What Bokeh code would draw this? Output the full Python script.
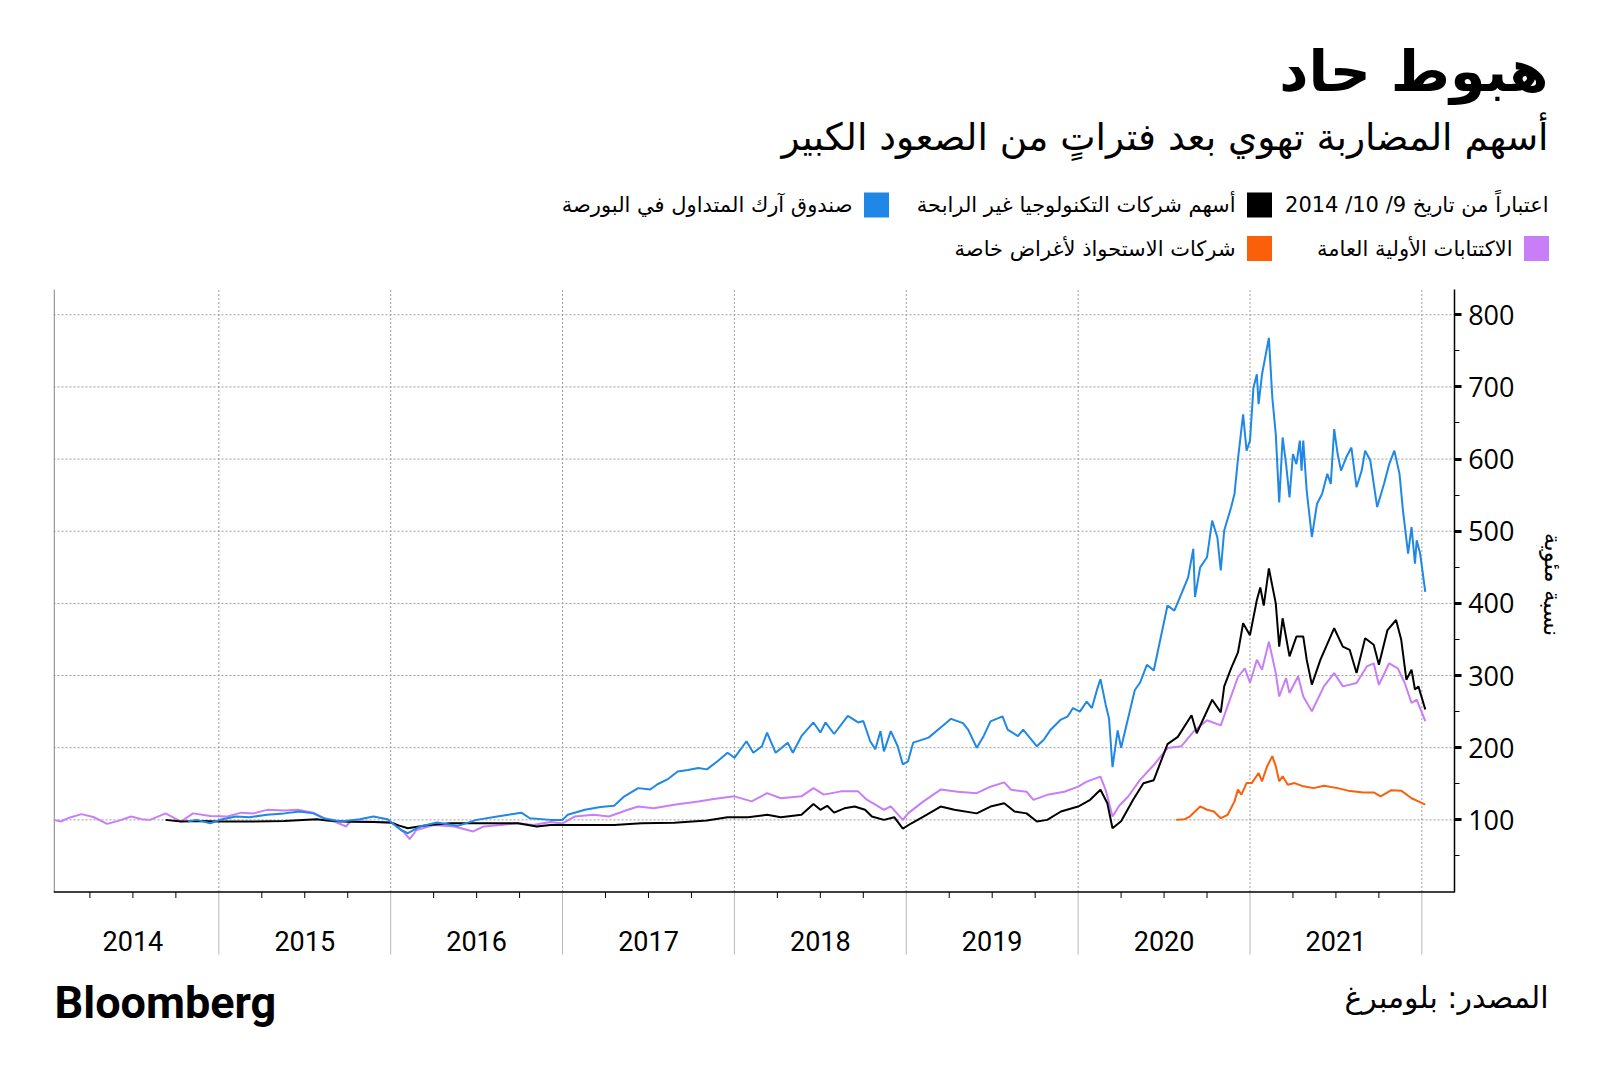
from bokeh.plotting import figure
from bokeh.models import FixedTicker, Range1d
from bokeh.core.properties import value
from bokeh.embed import file_html
from bokeh.resources import INLINE

# ---------------- data (decimal years, index value, 100 = start) ----------------
YEARS = [2014, 2015, 2016, 2017, 2018, 2019, 2020, 2021]
Y_TICKS = [100, 200, 300, 400, 500, 600, 700, 800]
Y_MINOR = [50, 150, 250, 350, 450, 550, 650, 750]

IPO_T = [2014.04, 2014.08, 2014.13, 2014.2, 2014.27, 2014.35, 2014.42, 2014.49, 2014.55, 2014.6,
         2014.69, 2014.78, 2014.85, 2014.95, 2015.05, 2015.13, 2015.2, 2015.28, 2015.38, 2015.46,
         2015.55, 2015.63, 2015.68, 2015.74, 2015.77, 2015.86, 2015.96, 2016.02, 2016.08, 2016.11,
         2016.15, 2016.25, 2016.37, 2016.48, 2016.54, 2016.64, 2016.74, 2016.83, 2016.93, 2017.0,
         2017.07, 2017.18, 2017.27, 2017.38, 2017.44, 2017.53, 2017.65, 2017.79, 2017.88, 2018.0,
         2018.1, 2018.19, 2018.27, 2018.39, 2018.46, 2018.52, 2018.62, 2018.72, 2018.77, 2018.82,
         2018.87, 2018.91, 2018.98, 2019.01, 2019.1, 2019.2, 2019.3, 2019.41, 2019.49, 2019.57,
         2019.61, 2019.7, 2019.74, 2019.82, 2019.92, 2020.0, 2020.05, 2020.13, 2020.16, 2020.2,
         2020.24, 2020.29, 2020.36, 2020.44, 2020.52, 2020.6, 2020.67, 2020.75, 2020.83, 2020.87,
         2020.93, 2020.97, 2021.0, 2021.04, 2021.07, 2021.11, 2021.15, 2021.17, 2021.21, 2021.23,
         2021.28, 2021.31, 2021.36, 2021.43, 2021.49, 2021.54, 2021.62, 2021.68, 2021.72, 2021.75,
         2021.81, 2021.86, 2021.9, 2021.94, 2021.97, 2022.02]
IPO_V = [100, 97.7, 103, 108, 104, 94.5, 99, 104.6, 101, 100,
         109, 97.7, 109, 105.5, 104.6, 110, 109, 113.9, 113, 113.9,
         110, 100, 97, 90.8, 99, 97.7, 96.3, 95.4, 82, 73.2,
         86, 93, 90.8, 84, 90.8, 93, 95.4, 93, 97, 95,
         104.6, 107, 104.6, 114, 118.6, 116, 121, 125.6, 128.8, 132.6,
         125.6, 137, 130, 132.6, 144, 135, 139.5, 139.5, 128, 121,
         114, 118.6, 100, 109, 125.6, 142, 139, 137, 146, 152,
         141.7, 139, 127.8, 134.7, 139, 146, 153, 160, 141.7, 104.6,
         120, 132, 155.5, 176, 199.5, 202, 222, 238, 231, 258,
         298, 310, 290, 322, 308, 347, 303.5, 271, 296.6, 275.8,
         299, 271, 250.6, 285, 303.5, 285, 289.7, 312.6, 317, 287,
         317, 310, 290, 262, 266.7, 236.8]

TECH_T = [2014.69, 2014.78, 2014.9, 2015.0, 2015.2, 2015.38, 2015.57, 2015.63, 2015.75, 2015.9,
          2016.0, 2016.05, 2016.1, 2016.22, 2016.35, 2016.55, 2016.74, 2016.85, 2016.93, 2017.0,
          2017.17, 2017.3, 2017.46, 2017.65, 2017.84, 2017.96, 2018.08, 2018.19, 2018.27, 2018.39,
          2018.46, 2018.5, 2018.54, 2018.58, 2018.64, 2018.7, 2018.76, 2018.8, 2018.87, 2018.93,
          2018.98, 2019.03, 2019.1, 2019.2, 2019.28, 2019.41, 2019.49, 2019.57, 2019.63, 2019.7,
          2019.76, 2019.82, 2019.9, 2020.0, 2020.07, 2020.13, 2020.17, 2020.2, 2020.25, 2020.32,
          2020.38, 2020.44, 2020.48, 2020.52, 2020.58, 2020.66, 2020.69, 2020.78, 2020.83, 2020.85,
          2020.89, 2020.93, 2020.96, 2021.0, 2021.04, 2021.06, 2021.08, 2021.11, 2021.15, 2021.17,
          2021.19, 2021.23, 2021.27, 2021.31, 2021.33, 2021.36, 2021.41, 2021.49, 2021.54, 2021.58,
          2021.62, 2021.67, 2021.72, 2021.75, 2021.8, 2021.85, 2021.88, 2021.91, 2021.94, 2021.96,
          2021.98, 2022.02]
TECH_V = [100, 97.7, 98.5, 97.7, 97.7, 98.6, 101, 99, 97.5, 97,
          96.3, 92, 88.5, 93, 95.4, 95.4, 95.4, 90.8, 93, 93,
          93, 93, 95.3, 96, 99, 103.7, 103.7, 107, 103.7, 107,
          122, 114, 119.5, 110, 116, 118.6, 114, 104.6, 100, 103.7,
          88, 95.3, 104.6, 118.5, 114, 109, 118.5, 123, 111.6, 109,
          97.7, 100, 111.6, 118.5, 127.8, 141.7, 123, 88.4, 98, 128,
          150.7, 155, 180, 205, 215, 245, 220, 266.5, 249, 285,
          310, 332, 372.5, 356, 404.7, 422, 397, 448.4, 400, 340,
          379.4, 326.5, 354, 354, 322, 287.4, 322, 365.6, 340, 335.7,
          303.5, 351.8, 342.6, 315, 363, 377, 349.5, 294.3, 308, 280.5,
          285, 253]

ARK_T = [2014.82, 2014.87, 2014.95, 2015.02, 2015.1, 2015.18, 2015.28, 2015.38, 2015.47, 2015.55,
         2015.61, 2015.71, 2015.82, 2015.9, 2015.98, 2016.06, 2016.1, 2016.17, 2016.27, 2016.39,
         2016.5, 2016.62, 2016.76, 2016.81, 2016.93, 2017.0, 2017.03, 2017.13, 2017.22, 2017.3,
         2017.36, 2017.44, 2017.51, 2017.55, 2017.61, 2017.67, 2017.73, 2017.79, 2017.84, 2017.9,
         2017.96, 2018.0, 2018.07, 2018.11, 2018.16, 2018.19, 2018.24, 2018.31, 2018.34, 2018.39,
         2018.46, 2018.5, 2018.53, 2018.58, 2018.66, 2018.72, 2018.75, 2018.79, 2018.82, 2018.85,
         2018.87, 2018.91, 2018.95, 2018.98, 2019.01, 2019.04, 2019.13, 2019.2, 2019.23, 2019.26,
         2019.33, 2019.36, 2019.41, 2019.45, 2019.49, 2019.56, 2019.59, 2019.65, 2019.68, 2019.76,
         2019.8, 2019.84, 2019.9, 2019.94, 2019.97, 2020.01, 2020.05, 2020.08, 2020.11, 2020.13,
         2020.16, 2020.18, 2020.2, 2020.23, 2020.25, 2020.29, 2020.33, 2020.36, 2020.4, 2020.44,
         2020.48, 2020.52, 2020.56, 2020.6, 2020.64, 2020.67, 2020.68, 2020.71, 2020.75, 2020.78,
         2020.81, 2020.83, 2020.85, 2020.89, 2020.91, 2020.93, 2020.96, 2020.98, 2021.0, 2021.02,
         2021.04, 2021.05, 2021.07, 2021.11, 2021.13, 2021.15, 2021.17, 2021.19, 2021.21, 2021.23,
         2021.25, 2021.27, 2021.29, 2021.3, 2021.31, 2021.33, 2021.36, 2021.39, 2021.42, 2021.45,
         2021.47, 2021.49, 2021.51, 2021.53, 2021.56, 2021.59, 2021.62, 2021.65, 2021.67, 2021.7,
         2021.74, 2021.78, 2021.81, 2021.84, 2021.87, 2021.89, 2021.92, 2021.94, 2021.96, 2021.97,
         2021.99, 2022.02]
ARK_V = [97.7, 100, 95.4, 101, 104.6, 103.7, 107, 109, 111.5, 109,
         102.3, 97.7, 101, 104.6, 101, 86, 81.5, 90.8, 96.3, 91.7,
         100, 104.6, 110, 102.3, 100, 100, 107, 114, 117.7, 119.5,
         132.6, 144, 142, 149, 156, 167, 169, 172, 170, 181,
         193, 186, 209, 193, 202, 221, 193, 207, 193, 216,
         235, 221, 235, 219, 244, 235, 237, 209, 198, 223,
         195, 223, 202, 177, 181, 207, 214, 228, 234, 240,
         234, 225, 200, 216, 236.6, 243.5, 225, 216, 225, 202,
         211, 225, 239, 243.5, 255, 250, 264, 255, 280.5, 295,
         260, 240, 173, 224, 200, 240, 280, 290, 315, 307,
         352, 397, 390, 413, 436, 475.6, 408.8, 450, 464, 514.7,
         491.7, 445.6, 501, 533, 552, 600, 662, 611.7, 625.5, 699,
         717.5, 676, 717.5, 768, 685, 634.7, 540, 630, 593, 547,
         607, 593, 625.5, 584, 625.5, 556, 492, 538, 552, 579.5,
         565.7, 641.6, 607, 584, 602.5, 616, 561, 584, 611.7, 598,
         533.5, 565.7, 593, 611.7, 579.5, 529, 469, 505.9, 455, 487.5,
         469, 416]

SPAC_T = [2020.57, 2020.62, 2020.65, 2020.71, 2020.75, 2020.79, 2020.83, 2020.87, 2020.91, 2020.93,
          2020.95, 2020.98, 2021.01, 2021.05, 2021.07, 2021.1, 2021.13, 2021.15, 2021.17, 2021.19,
          2021.22, 2021.26, 2021.31, 2021.37, 2021.43, 2021.51, 2021.57, 2021.66, 2021.72, 2021.76,
          2021.82, 2021.88, 2021.94, 2021.98, 2022.02]
SPAC_V = [100, 101, 104.6, 118.6, 114, 111.6, 102.3, 107, 125.6, 141.9,
          134.9, 151, 151, 165, 153.5, 174.4, 188.4, 174.4, 153.5, 160.5,
          148.8, 151, 146.5, 144, 147.4, 144, 140.5, 138, 138, 132.6,
          141, 140.5, 130, 125.6, 121]

TITLE = "هبوط حاد"
SUBTITLE = "أسهم المضاربة تهوي بعد فتراتٍ من الصعود الكبير"
AS_OF = "اعتباراً من تاريخ 9/ 10/ 2014"
KEYS = ["tech", "ark", "ipo", "spac"]
NAMES = {
    "tech": "أسهم شركات التكنولوجيا غير الرابحة",
    "ark": "صندوق آرك المتداول في البورصة",
    "ipo": "الاكتتابات الأولية العامة",
    "spac": "شركات الاستحواذ لأغراض خاصة",
}
COLORS = {"tech": "#000000", "ark": "#1f88e6", "ipo": "#c87ef6", "spac": "#fa5f0a"}
Y_LABEL = "نسبة مئوية"
SOURCE = "المصدر: بلومبرغ"
BRAND = "Bloomberg"

# ---------------- geometry (page pixels) ----------------
W, H = 1600, 1076
FRAME_LEFT = 53            # left edge of the plotting area
AXIS_PX = 1454             # right value axis
TOP_PX = 289               # top of chart area
PX_PER_YEAR = 171.86
PX_PER_UNIT = 0.7216
X0 = 2014.038
X1 = X0 + (W - FRAME_LEFT) / PX_PER_YEAR
Y_TOP = 835.0
Y1 = Y_TOP + TOP_PX / PX_PER_UNIT
Y0 = Y_TOP - (H - TOP_PX) / PX_PER_UNIT
AR_FONT = "DejaVu Sans"


def px_x(px):
    return X0 + (px - FRAME_LEFT) / PX_PER_YEAR


def px_y(py):
    return Y1 - py / PX_PER_UNIT


X_AXIS = px_x(AXIS_PX)
Y_BOTTOM = px_y(954)

p = figure(width=W, height=H, x_range=Range1d(X0, X1), y_range=Range1d(Y0, Y1),
           x_axis_location=None, y_axis_location="left", output_backend="svg",
           toolbar_location=None, min_border_left=FRAME_LEFT, min_border_right=0,
           min_border_top=0, min_border_bottom=0)
p.outline_line_color = None
p.background_fill_color = "white"
p.border_fill_color = "white"
p.grid.visible = False

# value axis, drawn at the right end of the time range, labels on its right side
ya = p.yaxis[0]
ya.fixed_location = X_AXIS
ya.ticker = FixedTicker(ticks=Y_TICKS, minor_ticks=Y_MINOR)
ya.bounds = (0, Y_TOP)
ya.axis_line_color = "black"
ya.axis_line_width = 1.5
ya.major_tick_out = 0
ya.major_tick_in = 7
ya.major_tick_line_width = 3
ya.major_tick_line_color = "black"
ya.minor_tick_out = 0
ya.minor_tick_in = 5
ya.minor_tick_line_color = "black"
ya.major_label_standoff = -60
ya.major_label_text_font = "Open Sans"
ya.major_label_text_font_size = "27px"
ya.major_label_text_color = "black"

# horizontal dotted grid
p.segment(x0=[X0] * len(Y_TICKS), y0=Y_TICKS, x1=[X_AXIS] * len(Y_TICKS), y1=Y_TICKS,
          line_color="#9c9c9c", line_dash="2 2", line_width=1)
# year boundaries
bounds = list(range(2015, 2023))
p.segment(x0=bounds, y0=[0] * len(bounds), x1=bounds, y1=[Y_TOP] * len(bounds),
          line_color="#9c9c9c", line_dash="2 2", line_width=1)
p.segment(x0=bounds, y0=[0] * len(bounds), x1=bounds, y1=[Y_BOTTOM] * len(bounds),
          line_color="#b8b8b8", line_width=1)
left_x = px_x(FRAME_LEFT + 0.7)
p.segment(x0=[left_x], y0=[0], x1=[left_x], y1=[Y_TOP], line_color="#8c8c8c", line_width=1.3)

# time axis: line, quarter ticks, year labels
quarters = [y + q for y in YEARS for q in (0.25, 0.5, 0.75)]
quarters = [q for q in quarters if X0 < q < X_AXIS]
tick_len = 6 / PX_PER_UNIT
p.segment(x0=quarters, y0=[0] * len(quarters), x1=quarters, y1=[-tick_len] * len(quarters),
          line_color="black", line_width=1)
p.segment(x0=[X0], y0=[0], x1=[X_AXIS], y1=[0], line_color="black", line_width=1.5)
p.text(x=[y + 0.5 for y in YEARS], y=[px_y(940)] * len(YEARS), text=[str(y) for y in YEARS],
       text_font=value("Roboto"), text_font_size=value("27px"), text_color="black",
       text_align="center", text_baseline="middle")

# series
p.line(IPO_T, IPO_V, line_color=COLORS["ipo"], line_width=2)
p.line(TECH_T, TECH_V, line_color=COLORS["tech"], line_width=2)
p.line(ARK_T, ARK_V, line_color=COLORS["ark"], line_width=2)
p.line(SPAC_T, SPAC_V, line_color=COLORS["spac"], line_width=2)


def txt(text, px, py, size, align="right", font=AR_FONT, style="normal", color="black", angle=0.0):
    p.text(x=[px_x(px)], y=[px_y(py)], text=[text], text_font=value(font),
           text_font_size=value(f"{size}px"), text_font_style=style, text_color=color,
           text_align=align, text_baseline="middle", angle=angle)


# header
txt(TITLE, 1548, 70, 57, style="bold")
txt(SUBTITLE, 1548, 136, 37.5)
txt(AS_OF, 1548, 204, 21)
LEG_POS = {"tech": (1259, 204.5), "ark": (876, 204.5), "ipo": (1536, 248), "spac": (1259, 248)}
p.rect(x=[px_x(LEG_POS[k][0]) for k in KEYS], y=[px_y(LEG_POS[k][1]) for k in KEYS],
       width=25, height=25, width_units="screen", height_units="screen",
       fill_color=[COLORS[k] for k in KEYS], line_color=None)
for k in KEYS:
    txt(NAMES[k], LEG_POS[k][0] - 24, LEG_POS[k][1], 21)

# axis title
txt(Y_LABEL, 1552, 584, 23, align="center", angle=-1.5708)

# footer
txt(SOURCE, 1548, 997, 30)
txt(BRAND, 54, 1002, 45, align="left", font="Roboto", style="bold")

open("out.html", "w").write(file_html(p, INLINE))
